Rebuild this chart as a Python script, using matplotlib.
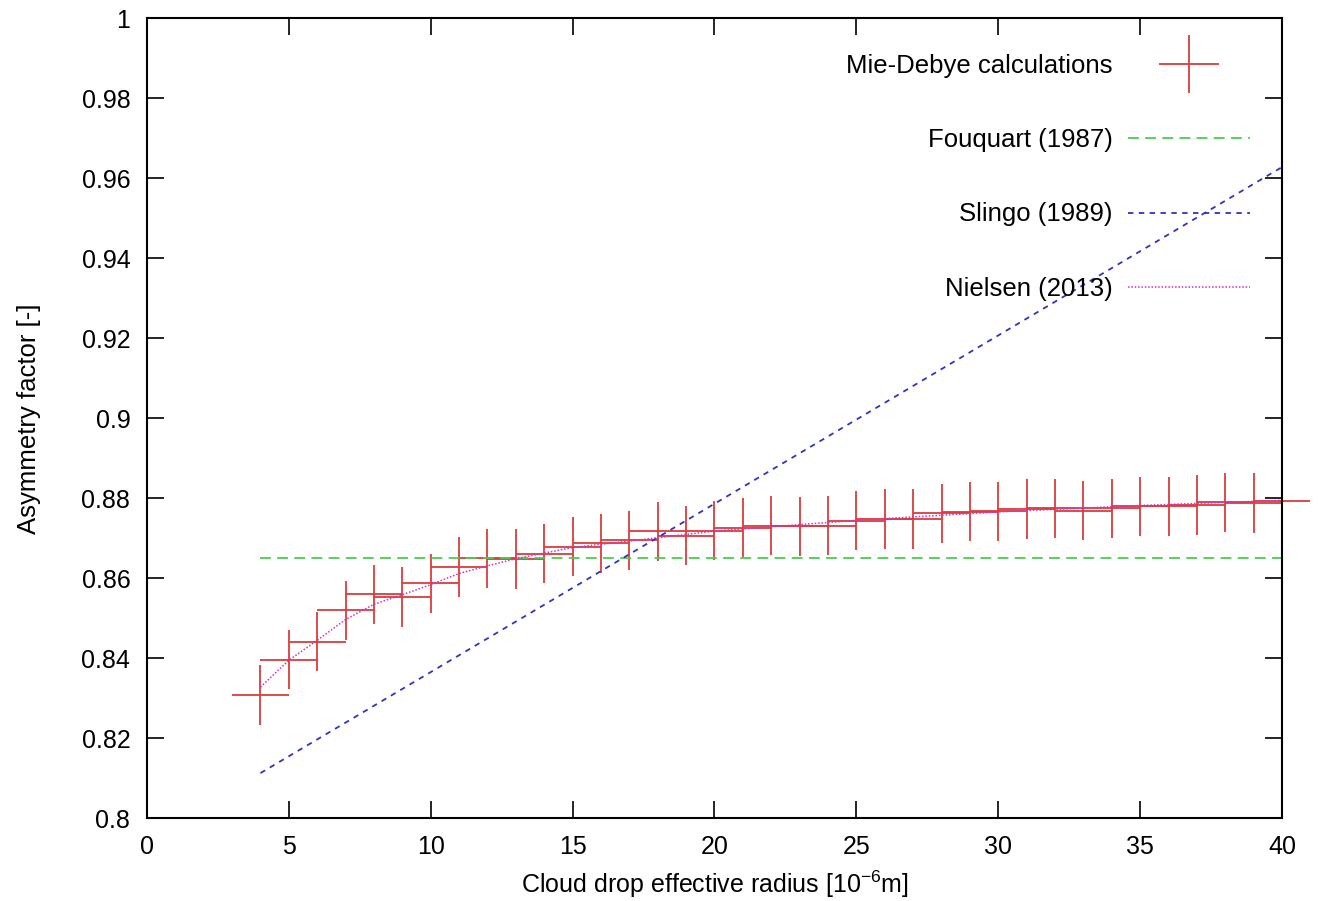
import matplotlib
matplotlib.use('Agg')
import matplotlib.pyplot as plt
from matplotlib.ticker import MultipleLocator, FuncFormatter
from matplotlib.legend_handler import HandlerErrorbar

# Mie-Debye calculations (effective radius in 1e-6 m, asymmetry factor)
radius = list(range(4, 41))
g_mie = [0.8308, 0.8396, 0.8441, 0.8520, 0.8560, 0.8553, 0.8587, 0.8628,
         0.8650, 0.8648, 0.8661, 0.8679, 0.8687, 0.8695, 0.8717, 0.8706,
         0.8719, 0.8726, 0.8731, 0.8730, 0.8731, 0.8744, 0.8748, 0.8748,
         0.8762, 0.8766, 0.8767, 0.8773, 0.8775, 0.8769, 0.8775, 0.8780,
         0.8780, 0.8783, 0.8790, 0.8788, 0.8792]
radius_err = 1.0
g_mie_err = 0.0074

# parameterisations
fouquart_r = [4, 40]
fouquart_g = [0.865, 0.865]

slingo_r = [4, 40]
slingo_g = [0.8113, 0.9628]

nielsen_r = [4, 5, 6, 7, 8, 9, 10, 11, 12, 13, 14, 15, 17, 20, 25, 30, 35, 40]
nielsen_g = [0.8328, 0.8395, 0.8445, 0.8497, 0.8535, 0.8559, 0.8584, 0.8612,
             0.8631, 0.8649, 0.8663, 0.8677, 0.8693, 0.8718, 0.8745, 0.8766,
             0.8782, 0.8795]

plt.rcParams['font.family'] = 'Liberation Sans'
plt.rcParams['font.size'] = 18

fig = plt.figure(figsize=(13.18, 9.01), dpi=100)
ax = fig.add_axes([0.1115, 0.0918, 0.8612, 0.8879])

red = '#dc3c3c'
mie = ax.errorbar(radius, g_mie, xerr=radius_err, yerr=g_mie_err, fmt='none',
                  ecolor=red, elinewidth=1.3, capsize=0)
for coll in mie.lines[2]:
    coll.set_clip_on(False)

fq, = ax.plot(fouquart_r, fouquart_g, color='#4ccc4c', lw=1.3, dashes=(6, 3.5))
sl, = ax.plot(slingo_r, slingo_g, color='#3333bb', lw=1.3, dashes=(3, 3))
ni, = ax.plot(nielsen_r, nielsen_g, color='#d030d0', lw=1.1, dashes=(1, 1.2))

ax.set_xlim(0, 40)
ax.set_ylim(0.8, 1.0)
ax.xaxis.set_major_locator(MultipleLocator(5))
ax.yaxis.set_major_locator(MultipleLocator(0.02))
ax.yaxis.set_major_formatter(FuncFormatter(lambda v, p: '%g' % round(v, 4)))
ax.tick_params(direction='in', length=12, width=1.2, top=True, right=True,
               pad=12, labelsize=18)
for s in ax.spines.values():
    s.set_linewidth(1.5)

ax.set_xlabel('Cloud drop effective radius [10$^{\\mathregular{-6}}$m]', fontsize=18, labelpad=7)
ax.set_ylabel('Asymmetry factor [-]', fontsize=18.5, labelpad=29)

ax.legend([mie, fq, sl, ni],
          ['Mie-Debye calculations', 'Fouquart (1987)', 'Slingo (1989)', 'Nielsen (2013)'],
          handler_map={type(mie): HandlerErrorbar(xerr_size=1.15, yerr_size=1.13)},
          loc='upper right', bbox_to_anchor=(0.9718, 0.955), frameon=False,
          markerfirst=False, handlelength=4.75, handletextpad=0.6,
          labelspacing=1.95, fontsize=18.5, borderaxespad=0, borderpad=0)

fig.savefig('out.png', dpi=100)
